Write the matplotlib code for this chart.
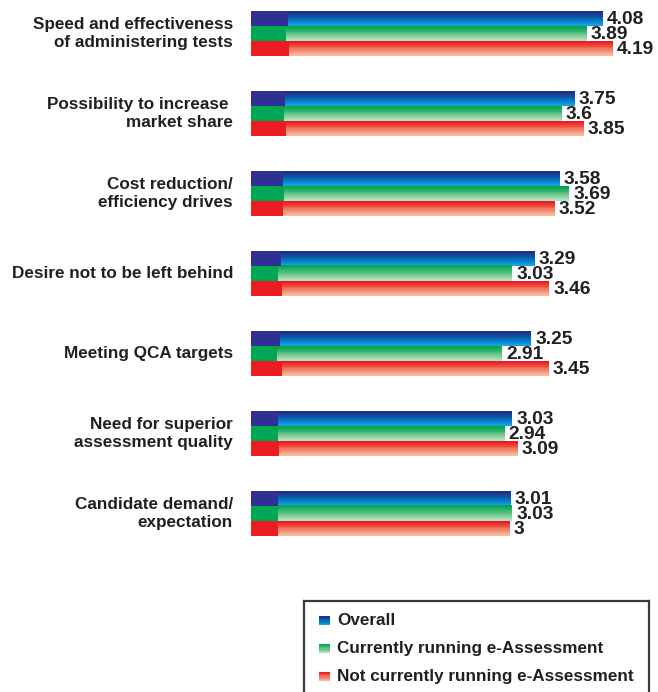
import numpy as np
import matplotlib.pyplot as plt
from matplotlib.colors import LinearSegmentedColormap
from matplotlib.patches import Rectangle

plt.rcParams['font.family'] = ['Liberation Sans', 'DejaVu Sans']

categories = [
    "Speed and effectiveness\nof administering tests",
    "Possibility to increase \nmarket share",
    "Cost reduction/\nefficiency drives",
    "Desire not to be left behind",
    "Meeting QCA targets",
    "Need for superior\nassessment quality",
    "Candidate demand/\nexpectation",
]
overall = [4.08, 3.75, 3.58, 3.29, 3.25, 3.03, 3.01]
current = [3.89, 3.6, 3.69, 3.03, 2.91, 2.94, 3.03]
not_current = [4.19, 3.85, 3.52, 3.46, 3.45, 3.09, 3]
value_labels = [
    ["4.08", "3.75", "3.58", "3.29", "3.25", "3.03", "3.01"],
    ["3.89", "3.6", "3.69", "3.03", "2.91", "2.94", "3.03"],
    ["4.19", "3.85", "3.52", "3.46", "3.45", "3.09", "3"],
]
series_names = ["Overall", "Currently running e-Assessment",
                "Not currently running e-Assessment"]

# solid block colour, then top/bottom of the striped gradient
solid = ["#2e3192", "#00a651", "#ed1c24"]
grads = [
    ["#262d86", "#0066b3", "#16a0e0"],
    ["#00a651", "#5cbf82", "#b4e1c2"],
    ["#ed1c24", "#f0705a", "#f9b8a0"],
]
cmaps = [LinearSegmentedColormap.from_list("g%d" % i, g, N=8) for i, g in enumerate(grads)]
text_col = "#231f20"

W, H = 658, 692
fig = plt.figure(figsize=(W / 100, H / 100), dpi=100)

x0_px = 251
px_per_unit = 86.2
ax = fig.add_axes([x0_px / W, 0, 1 - x0_px / W, 1])
ax.set_xlim(0, (W - x0_px) / px_per_unit)
group_px = 80.0
first_px = 33.5
ax.set_ylim((H - first_px) / group_px, -first_px / group_px)
ax.axis("off")

bh = 15 / group_px
grad_img = np.linspace(0, 1, 64).reshape(-1, 1)

for s, vals in enumerate([overall, current, not_current]):
    for i, v in enumerate(vals):
        yc = i + (s - 1) * bh
        top, bot = yc - bh / 2, yc + bh / 2
        blk = v * 0.105
        ax.add_patch(Rectangle((0, top), blk, bh, color=solid[s], lw=0))
        ax.imshow(grad_img, cmap=cmaps[s], aspect="auto",
                  extent=(blk, v, bot, top), interpolation="nearest")
        ax.text(v + 0.05, yc + 0.01, value_labels[s][i], ha="left", va="center",
                fontsize=13.8, fontweight="bold", color=text_col)

for i, c in enumerate(categories):
    ax.text(-0.21, i, c, ha="right", va="center", fontsize=12.3,
            fontweight="bold", color=text_col, linespacing=1.2,
            clip_on=False)

# legend box
lx0, ly0, lx1, ly1 = 304, 601, 649, 695
lax = fig.add_axes([lx0 / W, 1 - ly1 / H, (lx1 - lx0) / W, (ly1 - ly0) / H])
lax.set_xticks([])
lax.set_yticks([])
for sp in lax.spines.values():
    sp.set_color("#3a3a3a")
    sp.set_linewidth(1.6)
for s, name in enumerate(series_names):
    yc = 620 + 28 * s
    lax.imshow(grad_img, cmap=cmaps[s], aspect="auto",
               extent=(319, 330, yc + 4.5, yc - 4.5), interpolation="nearest")
    lax.text(337, yc, name, ha="left", va="center", fontsize=12.3,
             fontweight="bold", color=text_col)
lax.set_xlim(lx0, lx1)
lax.set_ylim(ly1, ly0)

fig.savefig("out.png", dpi=100)
